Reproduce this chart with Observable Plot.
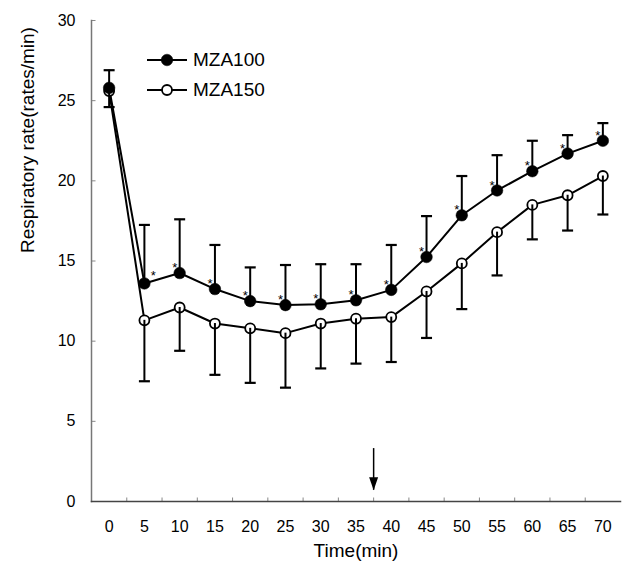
<!DOCTYPE html>
<html><head><meta charset="utf-8">
<script src="https://cdn.jsdelivr.net/npm/d3@7"></script>
<script src="https://cdn.jsdelivr.net/npm/@observablehq/plot@0.6"></script>
<style>
body{margin:0;background:#fff;}
#wrap{position:relative;width:622px;height:572px;font-family:"Liberation Sans",Arial,sans-serif;}
.legend{position:absolute;left:146px;top:45px;font-size:19px;line-height:30px;color:#000;}
.legend .row{display:flex;align-items:center;height:30px;}
.legend svg{margin-right:5px;}
</style></head><body><div id="wrap"></div>
<script>
const times = [0,5,10,15,20,25,30,35,40,45,50,55,60,65,70];
const seriesNames = ["MZA100","MZA150"];
const mza100Mean  = [25.8,13.6,14.25,13.25,12.5,12.25,12.3,12.55,13.2,15.25,17.85,19.4,20.6,21.7,22.5];
const mza100Upper = [26.9,17.25,17.6,16.0,14.6,14.75,14.8,14.8,16.0,17.8,20.3,21.6,22.5,22.85,23.6];
const mza150Mean  = [25.6,11.3,12.1,11.1,10.8,10.5,11.1,11.4,11.5,13.1,14.85,16.8,18.5,19.1,20.3];
const mza150Lower = [24.6,7.5,9.4,7.9,7.4,7.1,8.3,8.6,8.7,10.2,12.0,14.1,16.35,16.9,17.9];
const significant = [false,true,true,true,true,true,true,true,true,true,true,true,true,true,true];
const xTickLabels = [0,5,10,15,20,25,30,35,40,45,50,55,60,65,70];
const xMinorTicks = [2.5,7.5,12.5,17.5,22.5,27.5,32.5,37.5,42.5,47.5,52.5,57.5,62.5,67.5];
const yTickLabels = [0,5,10,15,20,25,30];
const arrowTime = 37.5, arrowTop = 3.3, arrowTip = 0.7;

const rows100 = times.map((t,i)=>({t, y: mza100Mean[i], hi: mza100Upper[i], sig: significant[i]}));
const rows150 = times.map((t,i)=>({t, y: mza150Mean[i], lo: mza150Lower[i]}));

const capSymbol = {draw(ctx, size){const w = 5.5; ctx.moveTo(-w,0); ctx.lineTo(w,0);}};
const tickUp = {draw(ctx){ctx.moveTo(0,0); ctx.lineTo(0,-4);}};
const tickRight = {draw(ctx){ctx.moveTo(0,0); ctx.lineTo(4,0);}};
const arrowHead = {draw(ctx){ctx.moveTo(0,0); ctx.lineTo(-4.5,-13); ctx.lineTo(4.5,-13); ctx.closePath();}};

const chart = Plot.plot({
  width: 622, height: 572,
  marginLeft: 91, marginRight: 2, marginTop: 20, marginBottom: 71,
  style: {fontFamily: "Liberation Sans, Arial, sans-serif", fontSize: "16px", color: "#000", background: "#fff", overflow: "visible"},
  x: {domain: [-2.5, 72.5]},
  y: {domain: [0, 30]},
  marks: [
    Plot.axisY(yTickLabels, {tickSize: 0, tickPadding: 16, fontSize: 16, label: null}),
    Plot.axisX(xTickLabels, {tickSize: 0, tickPadding: 19, fontSize: 16, label: null}),
    Plot.dot(yTickLabels, {y: d=>d, frameAnchor: "left", symbol: tickRight, stroke: "#888", strokeWidth: 1}),
    Plot.dot(xMinorTicks, {x: d=>d, frameAnchor: "bottom", symbol: tickUp, stroke: "#888", strokeWidth: 1}),
    Plot.frame({anchor: "left", stroke: "#777", strokeWidth: 1.5}),
    Plot.frame({anchor: "bottom", stroke: "#444", strokeWidth: 1.5}),
    Plot.text(["Time(min)"], {text: d=>d, frameAnchor: "bottom", dy: 55, fontSize: 19}),
    Plot.text(["Respiratory rate(rates/min)"], {text: d=>d, frameAnchor: "left", rotate: -90, dx: -64, dy: -8, fontSize: 19}),
    Plot.line(rows100, {x: "t", y: "y", stroke: "#000", strokeWidth: 2}),
    Plot.line(rows150, {x: "t", y: "y", stroke: "#000", strokeWidth: 2}),
    Plot.dot(rows150, {x: "t", y: "y", r: 5, fill: "#fff", stroke: "#000", strokeWidth: 1.8}),
    Plot.ruleX(rows100, {x: "t", y1: "y", y2: "hi", stroke: "#000", strokeWidth: 2}),
    Plot.dot(rows100, {x: "t", y: "hi", symbol: capSymbol, stroke: "#000", strokeWidth: 2.2}),
    Plot.ruleX(rows150, {x: "t", y1: "y", y2: "lo", stroke: "#000", strokeWidth: 2}),
    Plot.dot(rows150, {x: "t", y: "lo", symbol: capSymbol, stroke: "#000", strokeWidth: 2.2}),
    Plot.dot(rows100, {x: "t", y: "y", r: 5.8, fill: "#000", stroke: "#000", strokeWidth: 0.5}),
    Plot.text(rows100.filter(d=>d.sig && d.t !== 5), {x: "t", y: "y", text: ()=>"*", dx: -5, dy: -5, fontSize: 13}),
    Plot.text(rows100.filter(d=>d.sig && d.t === 5), {x: "t", y: "y", text: ()=>"*", dx: 9, dy: -8, fontSize: 13}),
    Plot.ruleX([arrowTime], {x: d=>d, y1: arrowTop, y2: arrowTip, stroke: "#000", strokeWidth: 1.5}),
    Plot.dot([arrowTime], {x: d=>d, y: arrowTip, symbol: arrowHead, fill: "#000", stroke: "none"})
  ]
});
const wrap = document.getElementById("wrap");
wrap.appendChild(chart);

const legend = document.createElement("div");
legend.className = "legend";
seriesNames.forEach((name, i) => {
  const row = document.createElement("div");
  row.className = "row";
  const filled = i === 0;
  row.innerHTML = `<svg width="42" height="14" viewBox="0 0 42 14"><line x1="1" y1="7" x2="41" y2="7" stroke="#000" stroke-width="2"/><circle cx="21" cy="7" r="${filled ? 5.8 : 5}" fill="${filled ? "#000" : "#fff"}" stroke="#000" stroke-width="${filled ? 0.5 : 1.8}"/></svg><span>${name}</span>`;
  legend.appendChild(row);
});
wrap.appendChild(legend);
</script>
</body></html>
